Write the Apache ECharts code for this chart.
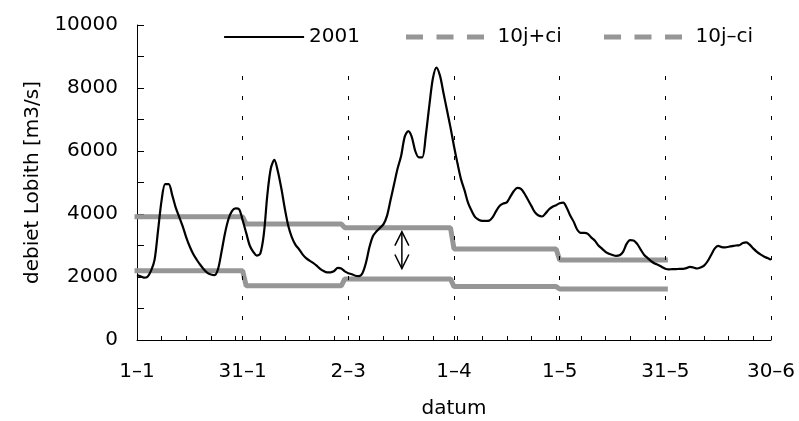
<!DOCTYPE html>
<html>
<head>
<meta charset="utf-8">
<script src="https://cdn.jsdelivr.net/npm/echarts@6/dist/echarts.min.js"></script>
<style>html,body{margin:0;padding:0;background:#fff;}#c{width:799px;height:421px;}</style>
</head>
<body>
<div id="c"></div>
<script>
// Daily discharge 2001 (day 0 = 1 Jan), m3/s
const flow2001 = [
 2060,2020,1980,2010,2200,2550,3500,4450,4950,4950,
 4600,4200,3900,3600,3250,2960,2720,2540,2380,2240,
 2130,2080,2060,2250,2800,3400,3850,4100,4180,4150,
 3800,3400,3000,2800,2680,2740,3350,4600,5450,5720,
 5350,4800,4150,3600,3250,3020,2880,2720,2600,2520,
 2450,2360,2260,2190,2150,2150,2190,2290,2270,2180,
 2120,2090,2040,2030,2120,2450,2950,3300,3450,3560,
 3680,3950,4450,4950,5450,5850,6450,6630,6450,6000,
 5800,5800,6500,7450,8300,8650,8400,7850,7300,6750,
 6150,5600,5100,4750,4350,4100,3900,3820,3780,3780,
 3790,3900,4100,4260,4330,4370,4550,4730,4830,4800,
 4650,4450,4250,4050,3950,3920,4020,4150,4230,4280,
 4340,4360,4200,3950,3750,3500,3400,3400,3370,3250,
 3150,3000,2900,2800,2740,2700,2670,2690,2800,3050,
 3170,3160,3050,2870,2700,2600,2500,2430,2380,2320,
 2260,2240,2250,2250,2260,2260,2280,2320,2300,2270,
 2300,2360,2500,2700,2900,2990,2950,2940,2960,2980,
 3000,3010,3080,3100,3020,2900,2800,2720,2650,2600,
 2550
];
// Monthly 10-year mean +/- ci
const monthStart = [0, 31, 59, 90, 120];
const monthEnd   = [30, 58, 89, 119, 150];
const upperCI = [3910, 3680, 3565, 2890, 2540];
const lowerCI = [2200, 1720, 1940, 1695, 1620];
// x tick labels (every 30 days)
const tickDays = [0, 30, 60, 90, 120, 150, 180];
const tickLabels = ['1–1', '31–1', '2–3', '1–4', '1–5', '31–5', '30–6'];
const dividerDays = [30, 60, 90, 120, 150, 180];
const dividerTop = 8730;
// annotation arrow
const arrowDay = 75.2;
const arrowTop = 3440;
const arrowBottom = 2270;

const FONT = 'DejaVu Sans';
const GRAY = '#969696';

const lineData = flow2001.map((v, i) => [i, v]);
function stepData(vals) {
  const out = [];
  vals.forEach((v, k) => { out.push([monthStart[k], v]); out.push([monthEnd[k], v]); });
  return out;
}
const dividerLines = dividerDays.map(d => [{coord: [d, 0]}, {coord: [d, dividerTop]}]);

const chart = echarts.init(document.getElementById('c'), null, {renderer: 'canvas'});
const legendText = {fontSize: 20, fontFamily: FONT, color: '#000'};
const hideSym = {opacity: 0};
const legendBase = {top: 27, padding: 0, itemHeight: 20, textStyle: legendText, selectedMode: false};
chart.setOption({
  animation: false,
  backgroundColor: '#fff',
  grid: {left: 137, right: 28, top: 25, bottom: 81, containLabel: false, outerBoundsMode: 'none'},
  legend: [
    Object.assign({data: [{name: '2001', lineStyle: {color: '#000', width: 2.2, type: 'solid'}, itemStyle: hideSym}],
     left: 223, itemWidth: 80}, legendBase),
    Object.assign({data: [{name: '10j+ci', lineStyle: {color: GRAY, width: 5, type: [12, 18.5]}, itemStyle: hideSym}],
     left: 406, itemWidth: 84}, legendBase),
    Object.assign({data: [{name: '10j–ci', lineStyle: {color: GRAY, width: 5, type: [12, 18.5]}, itemStyle: hideSym}],
     left: 604, itemWidth: 84}, legendBase)
  ],
  xAxis: [
    {type: 'value', min: 0, max: 180, interval: 30,
     name: 'datum', nameLocation: 'middle', nameGap: 59,
     nameTextStyle: {fontSize: 20, fontFamily: FONT, color: '#000'},
     axisLine: {show: true, onZero: false, lineStyle: {color: '#000', width: 1}},
     axisTick: {show: false},
     splitLine: {show: false},
     axisLabel: {margin: 22, fontSize: 20, fontFamily: FONT, color: '#000',
       formatter: v => { const k = tickDays.indexOf(v); return k >= 0 ? tickLabels[k] : ''; }}
    },
    {type: 'value', min: 0, max: 180, interval: 7, position: 'bottom',
     axisLine: {show: false}, axisLabel: {show: false}, splitLine: {show: false},
     axisTick: {show: true, inside: true, length: 4, lineStyle: {color: '#000', width: 1}}
    }
  ],
  yAxis: {
    type: 'value', min: 0, max: 10000, interval: 2000,
    name: 'debiet Lobith [m3/s]', nameLocation: 'middle', nameGap: 94,
    nameTextStyle: {fontSize: 20, fontFamily: FONT, color: '#000'},
    axisLine: {show: true, lineStyle: {color: '#000', width: 1}},
    axisTick: {show: true, inside: true, length: 7, lineStyle: {color: '#000'}},
    minorTick: {show: true, splitNumber: 2, length: 7, lineStyle: {color: '#000'}},
    splitLine: {show: false},
    axisLabel: {margin: 19, fontSize: 20, fontFamily: FONT, color: '#000',
      padding: [12, 0, 0, 0], formatter: v => String(v)}
  },
  series: [
    {name: '10j+ci', type: 'line', data: stepData(upperCI), symbol: 'none', showSymbol: false,
     lineStyle: {color: GRAY, width: 5, cap: 'square'}, itemStyle: {color: GRAY}, z: 2},
    {name: '10j–ci', type: 'line', data: stepData(lowerCI), symbol: 'none', showSymbol: false,
     lineStyle: {color: GRAY, width: 5, cap: 'square'}, itemStyle: {color: GRAY}, z: 2},
    {name: '2001', type: 'line', data: lineData, symbol: 'none', showSymbol: false, smooth: 0.3,
     lineStyle: {color: '#000', width: 2.2}, itemStyle: {color: '#000'}, z: 3,
     markLine: {silent: true, symbol: 'none', label: {show: false},
       lineStyle: {color: '#000', width: 1, type: [4, 16]}, data: dividerLines}
    },
    {name: 'arrow', type: 'custom', data: [[arrowDay, arrowTop, arrowBottom]], z: 4,
     renderItem: function (params, api) {
       const a = api.coord([api.value(0), api.value(1)]);
       const b = api.coord([api.value(0), api.value(2)]);
       const st = {stroke: '#000', lineWidth: 1.5, fill: null};
       return {type: 'group', children: [
         {type: 'line', shape: {x1: a[0], y1: a[1], x2: b[0], y2: b[1]}, style: st},
         {type: 'polyline', shape: {points: [[a[0]-7, a[1]+14], [a[0], a[1]], [a[0]+7, a[1]+14]]}, style: st},
         {type: 'polyline', shape: {points: [[b[0]-7, b[1]-14], [b[0], b[1]], [b[0]+7, b[1]-14]]}, style: st}
       ]};
     }
    }
  ]
});
</script>
</body>
</html>
